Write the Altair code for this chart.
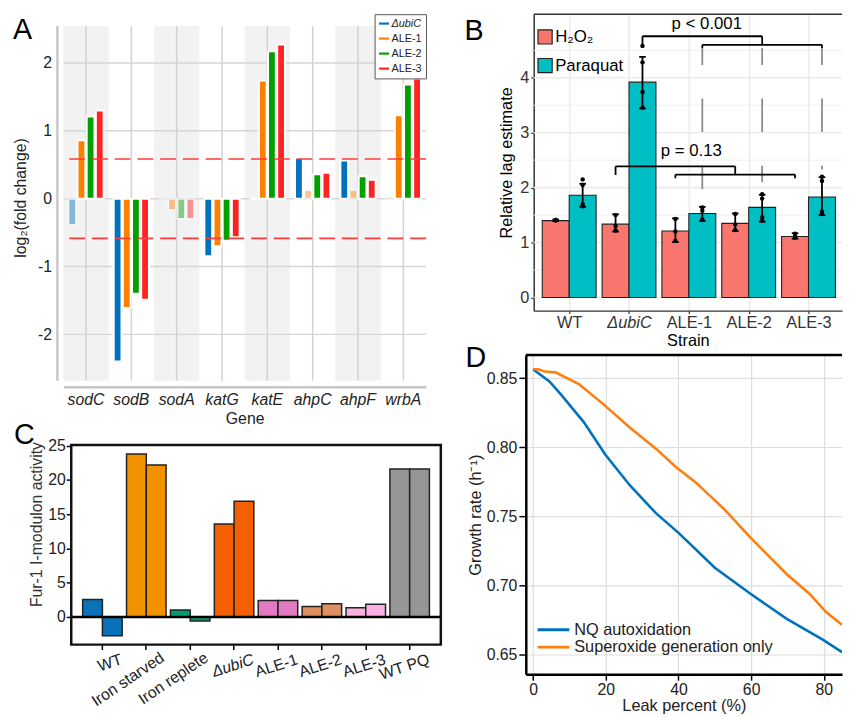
import json
import altair as alt
import pandas as pd

FONT = "Liberation Sans"
TXT = "#222222"

# ======================= Panel A data =======================
genes = ["sodC", "sodB", "sodA", "katG", "katE", "ahpC", "ahpF", "wrbA"]
series_a = ["ΔubiC", "ALE-1", "ALE-2", "ALE-3"]
colors_a = ["#0072BD", "#FF7F00", "#00A000", "#FF2222"]
lfc_ubic = [-0.39, -2.40, 0.00, -0.85, 0.00, 0.60, 0.56, 0.03]
lfc_ale1 = [0.86, -1.61, -0.17, -0.70, 1.74, 0.13, 0.13, 1.23]
lfc_ale2 = [1.21, -1.40, -0.30, -0.62, 2.17, 0.36, 0.33, 1.68]
lfc_ale3 = [1.30, -1.49, -0.30, -0.57, 2.27, 0.38, 0.28, 1.77]
sig_ubic = [False, True, False, True, True, True, True, False]
sig_ale1 = [True, True, False, True, True, False, False, True]
sig_ale2 = [True, True, False, True, True, True, True, True]
sig_ale3 = [True, True, False, True, True, True, True, True]
lfc_threshold = [0.585, -0.585]
a_ticks = [-2, -1, 0, 1, 2]

# ======================= Panel B data =======================
strains = ["WT", "ΔubiC", "ALE-1", "ALE-2", "ALE-3"]
treatments = ["H₂O₂", "Paraquat"]
colors_b = ["#F8766D", "#00BFC4"]
lag_h2o2 = [1.40, 1.335, 1.21, 1.35, 1.11]
lag_pq = [1.86, 3.92, 1.53, 1.64, 1.83]
lo_h2o2 = [1.39, 1.20, 1.01, 1.21, 1.07]
hi_h2o2 = [1.42, 1.515, 1.44, 1.53, 1.17]
lo_pq = [1.65, 3.44, 1.39, 1.38, 1.50]
hi_pq = [2.07, 4.38, 1.65, 1.87, 2.19]
reps_h2o2 = [[1.41, 1.40, 1.41], [1.50, 1.22, 1.30], [1.43, 1.03, 1.20],
             [1.52, 1.23, 1.33], [1.16, 1.09, 1.12]]
reps_pq = [[2.15, 2.05, 1.70, 1.66], [4.58, 4.28, 3.74, 3.46], [1.64, 1.58, 1.42],
           [1.88, 1.80, 1.46, 1.40], [2.20, 2.12, 1.56, 1.52]]
b_ticks = [0, 1, 2, 3, 4]
b_minor = [0.5, 1.5, 2.5, 3.5, 4.5]
# (from strain, from treatment, to strain, to treatment, level, left end, right end)
b_brackets = [
    ("ΔubiC", "Paraquat", "ALE-2", "Paraquat", 4.755, 4.60, 4.60),
    ("ALE-1", "Paraquat", "ALE-3", "Paraquat", 4.60, 4.54, 4.54),
    ("ΔubiC", "H₂O₂", "ALE-2", "H₂O₂", 2.387, 2.23, 2.237),
    ("ALE-1", "H₂O₂", "ALE-3", "H₂O₂", 2.237, 2.17, 2.17),
]
# dashed guides (strain, top, bottom) on Paraquat bars
b_dashed = [("ALE-1", 4.54, 1.97), ("ALE-2", 4.54, 2.10), ("ALE-3", 4.54, 2.33)]
p_labels = ["p < 0.001", "p = 0.13"]
p_x = [2.30, 2.04]
p_y = [4.89, 2.567]

# ======================= Panel C data =======================
conditions = ["WT", "Iron starved", "Iron replete", "ΔubiC", "ALE-1", "ALE-2", "ALE-3", "WT PQ"]
colors_c = ["#0A72B8", "#F39200", "#009E73", "#F46000", "#E27AC3", "#DE9060", "#F9B1E3", "#969696"]
fur_rep1 = [2.54, 23.8, 1.00, 13.56, 2.40, 1.53, 1.34, 21.6]
fur_rep2 = [-2.74, 22.2, -0.58, 16.9, 2.40, 1.92, 1.87, 21.6]
c_ticks = [0, 5, 10, 15, 20, 25]
long_labels = ["Iron starved", "Iron replete"]
italic_labels = ["ΔubiC"]

# ======================= Panel D data =======================
models = ["NQ autoxidation", "Superoxide generation only"]
colors_d = ["#0072BD", "#FF7F0E"]
leak_nq = [0, 4.5, 7.7, 14, 19.8, 26.6, 33.8, 40.1, 50, 59.9, 69.8, 79.7, 85]
rate_nq = [0.8564, 0.8476, 0.838, 0.818, 0.795, 0.7726, 0.7524, 0.738, 0.713,
           0.694, 0.676, 0.661, 0.652]
leak_so = [0, 1.35, 3.2, 6.3, 12.6, 19.4, 26.6, 33.8, 39.2, 44.6, 52.7, 59.9,
           69.8, 76.1, 80.6, 85]
rate_so = [0.8564, 0.8564, 0.8548, 0.854, 0.8457, 0.831, 0.8143, 0.799, 0.786,
           0.775, 0.755, 0.7345, 0.7083, 0.694, 0.681, 0.6718]
d_xticks = [0, 20, 40, 60, 80]
d_yticks = [0.65, 0.70, 0.75, 0.80, 0.85]

one_row = pd.DataFrame({"k": [0]})


def letter(ch, x, y):
    return alt.Chart(pd.DataFrame({"t": [ch]})).mark_text(
        fontSize=29, align="left", baseline="alphabetic", color="black"
    ).encode(text="t:N", x=alt.value(x), y=alt.value(y))


# ======================= Panel A =======================
A_W, A_H = 367, 371
A_DOM = [-2.684, 2.718]
A_TOP, A_BOT = 2.543, -2.684

df_a = pd.DataFrame({
    "gene": genes * len(series_a),
    "series": [s for s in series_a for _ in genes],
    "lfc": lfc_ubic + lfc_ale1 + lfc_ale2 + lfc_ale3,
    "sig": sig_ubic + sig_ale1 + sig_ale2 + sig_ale3,
})
df_genes = pd.DataFrame({"gene": genes, "shade": [i % 2 == 0 for i in range(len(genes))]})

a_xscale = alt.Scale(domain=genes, paddingInner=0, paddingOuter=0)
a_xaxis = alt.Axis(title="Gene", labelFontStyle="italic", labelFontSize=16, labelColor=TXT,
                   labelAngle=0, labelPadding=5, ticks=False, domainColor="#c8c8c8",
                   domainWidth=2.5, offset=6, grid=False, titleFontSize=16,
                   titleColor=TXT, titlePadding=3)
a_yscale = alt.Scale(domain=A_DOM, nice=False, zero=False)
a_yaxis = alt.Axis(values=a_ticks, labelExpr="datum.value", grid=False, domain=False,
                   ticks=False, labelPadding=12, labelFontSize=16, labelColor=TXT,
                   title="log₂(fold change)", titleFontSize=16, titleColor=TXT,
                   titlePadding=9)


def xa():
    return alt.X("gene:N", sort=genes, scale=a_xscale, axis=a_xaxis)


def ya(f):
    return alt.Y(f"{f}:Q", scale=a_yscale, axis=a_yaxis)


def ya_datum(v):
    return alt.YDatum(v, type="quantitative", scale=a_yscale, axis=a_yaxis)


bands_a = alt.Chart(df_genes).transform_filter("datum.shade").mark_rect(
    color="#f2f2f2").encode(x=xa(), y=ya_datum(A_TOP), y2=alt.Y2Datum(A_BOT))
vgrid_a = alt.Chart(df_genes).mark_rule(color="#d2d2d2", strokeWidth=1.5).encode(
    x=xa(), y=ya_datum(A_TOP), y2=alt.Y2Datum(A_BOT))
hgrid_a = alt.Chart(pd.DataFrame({"lfc": a_ticks})).mark_rule(
    color="#d6d6d6", strokeWidth=1.5).encode(y=ya("lfc"))
axline_a = alt.Chart(one_row).mark_rule(color="#c8c8c8", strokeWidth=2.5).encode(
    x=alt.value(-6), y=ya_datum(A_TOP), y2=alt.Y2Datum(A_BOT))
bars_a = alt.Chart(df_a).mark_bar(stroke="white", strokeWidth=2).encode(
    x=xa(),
    xOffset=alt.XOffset("series:N", sort=series_a,
                        scale=alt.Scale(domain=series_a, paddingInner=0.15, paddingOuter=0.55)),
    y=ya("lfc"),
    color=alt.Color("series:N", sort=series_a,
                    scale=alt.Scale(domain=series_a, range=colors_a),
                    legend=alt.Legend(title=None, orient="none", legendX=315, legendY=0,
                                      symbolType="M-1,-0.22H1V0.22H-1Z", symbolSize=100,
                                      symbolStrokeWidth=0, labelFontSize=11, labelColor=TXT,
                                      labelFontStyle=alt.ExprRef(expr="datum.label == 'ΔubiC' ? 'italic' : 'normal'"),
                                      padding=4, rowPadding=3.2, labelOffset=2,
                                      strokeColor="#555555", fillColor="white", labelLimit=200)),
    opacity=alt.condition("datum.sig", alt.value(1.0), alt.value(0.45)),
)
thr_a = alt.Chart(pd.DataFrame({"lfc": lfc_threshold})).mark_rule(
    color="#ff3b3b", strokeWidth=1.6, strokeDash=[16, 7]).encode(y=ya("lfc"))

chart_a = alt.layer(bands_a, vgrid_a, hgrid_a, axline_a, bars_a, thr_a,
                    letter("A", -51, 25)).properties(width=A_W, height=A_H)

# ======================= Panel B =======================
B_W, B_H = 320, 300
B_XDOM = [-0.593, 4.56]
B_YDOM = [-0.239, 5.157]
DODGE = 0.45
CAP = 0.055

rows, pts = [], []
for i, s in enumerate(strains):
    for j, (t, lag, lo, hi, reps) in enumerate([
        (treatments[0], lag_h2o2[i], lo_h2o2[i], hi_h2o2[i], reps_h2o2[i]),
        (treatments[1], lag_pq[i], lo_pq[i], hi_pq[i], reps_pq[i]),
    ]):
        x0 = i - DODGE + j * DODGE
        xc = x0 + DODGE / 2
        rows.append({"strain": s, "treat": t, "x0": x0, "x1": x0 + DODGE, "xc": xc,
                     "c0": xc - CAP, "c1": xc + CAP, "lag": lag, "lo": lo, "hi": hi})
        for r in reps:
            pts.append({"xc": xc, "lag": r})
df_b = pd.DataFrame(rows)
df_pts = pd.DataFrame(pts)


def bpos(strain, treat):
    return strains.index(strain) + (-DODGE / 2 if treat == treatments[0] else DODGE / 2)


seg = []
for fs, ft, ts, tt, lvl, le, re in b_brackets:
    xa0, xa1 = bpos(fs, ft), bpos(ts, tt)
    seg.append({"bx": xa0, "bx2": xa1, "by": lvl, "by2": lvl})
    seg.append({"bx": xa0, "bx2": xa0, "by": lvl, "by2": le})
    seg.append({"bx": xa1, "bx2": xa1, "by": lvl, "by2": re})
df_seg = pd.DataFrame(seg)
df_dash = pd.DataFrame([{"xc": bpos(s, treatments[1]), "top": t, "bot": b} for s, t, b in b_dashed])
df_p = pd.DataFrame({"label": p_labels, "px": p_x, "py": p_y})

b_xscale = alt.Scale(domain=B_XDOM, range=[8, B_W], nice=False, zero=False)
b_xaxis = alt.Axis(values=list(range(len(strains))),
                   labelExpr=json.dumps(strains, ensure_ascii=False) + "[datum.value]",
                   labelFontStyle={"condition": {"test": f"datum.value == {strains.index('ΔubiC')}",
                                                 "value": "italic"}, "value": "normal"},
                   grid=True, gridColor="#ebebeb", gridWidth=1.6, domainColor="#333333",
                   domainWidth=1.5, tickColor="#333333", tickSize=3, tickWidth=1.2,
                   labelPadding=1, labelFontSize=16.5, labelColor="#333333", title="Strain",
                   titleFontSize=16.5, titleColor="black", titlePadding=2)
b_yscale = alt.Scale(domain=B_YDOM, nice=False, zero=False)
b_yaxis = alt.Axis(values=b_ticks, grid=False, offset=-8, domainColor="#333333",
                   domainWidth=1.5, tickColor="#333333", tickSize=3, tickWidth=1.2,
                   labelPadding=2, labelFontSize=16.5, labelColor="#333333",
                   title="Relative lag estimate", titleFontSize=16.5, titleColor="black",
                   titlePadding=5)


def xb(f):
    return alt.X(f"{f}:Q", scale=b_xscale, axis=b_xaxis)


def yb(f):
    return alt.Y(f"{f}:Q", scale=b_yscale, axis=b_yaxis)


hmin_b = alt.Chart(pd.DataFrame({"lag": b_minor})).mark_rule(color="#eeeeee", strokeWidth=1).encode(
    y=yb("lag"), x=alt.value(8), x2=alt.value(B_W))
hmaj_b = alt.Chart(pd.DataFrame({"lag": b_ticks})).mark_rule(color="#ebebeb", strokeWidth=1.6).encode(
    y=yb("lag"), x=alt.value(8), x2=alt.value(B_W))
bars_b = alt.Chart(df_b).mark_rect(stroke="#222222", strokeWidth=1.1).encode(
    x=xb("x0"), x2="x1:Q", y=yb("lag"), y2=alt.Y2Datum(0),
    color=alt.Color("treat:N", sort=treatments,
                    scale=alt.Scale(domain=treatments, range=colors_b),
                    legend=alt.Legend(title=None, orient="none", legendX=11, legendY=14.5,
                                      symbolType="square", symbolSize=205,
                                      symbolStrokeColor="#222222", symbolStrokeWidth=1.2,
                                      symbolOpacity=1, labelFontSize=17, labelColor="black",
                                      labelOffset=1.7, rowPadding=8, padding=0,
                                      labelLimit=200)),
)
err_b = alt.Chart(df_b).mark_rule(color="black", strokeWidth=1.8).encode(
    x=xb("xc"), y=yb("lo"), y2="hi:Q")
caplo_b = alt.Chart(df_b).mark_rule(color="black", strokeWidth=1.8).encode(
    x=xb("c0"), x2="c1:Q", y=yb("lo"))
caphi_b = alt.Chart(df_b).mark_rule(color="black", strokeWidth=1.8).encode(
    x=xb("c0"), x2="c1:Q", y=yb("hi"))
pts_b = alt.Chart(df_pts).mark_circle(size=20, color="black", opacity=1).encode(
    x=xb("xc"), y=yb("lag"))
dash_b = alt.Chart(df_dash).mark_rule(color="#8c8c8c", strokeWidth=1.8,
                                      strokeDash=[34, 34], strokeDashOffset=17).encode(
    x=xb("xc"), y=yb("top"), y2="bot:Q")
brk_b = alt.Chart(df_seg).mark_rule(color="black", strokeWidth=1.8).encode(
    x=xb("bx"), x2="bx2:Q", y=yb("by"), y2="by2:Q")
ptxt_b = alt.Chart(df_p).mark_text(fontSize=17, align="center", baseline="alphabetic",
                                   color="black").encode(x=xb("px"), y=yb("py"), text="label:N")
top_b = alt.Chart(one_row).mark_rule(color="#333333", strokeWidth=1.5).encode(
    x=alt.value(8), x2=alt.value(B_W), y=alt.value(0))

chart_b = alt.layer(hmin_b, hmaj_b, bars_b, err_b, caplo_b, caphi_b, pts_b, dash_b, brk_b,
                    ptxt_b, top_b, letter("B", -62, 26)).properties(width=B_W, height=B_H)

# ======================= Panel C =======================
C_W, C_H = 382, 202
C_DOM = [-4.04, 25.1]
df_c = pd.DataFrame({
    "cond": conditions * 2,
    "rep": ["1"] * len(conditions) + ["2"] * len(conditions),
    "fur": fur_rep1 + fur_rep2,
})
df_clab = pd.DataFrame({"cond": conditions})
short_labels = [c for c in conditions if c not in long_labels + italic_labels]

c_xscale = alt.Scale(domain=conditions, range=[8, C_W], paddingInner=0.1, paddingOuter=0.26)
c_xaxis = alt.Axis(labels=False, ticks=True, tickSize=5, tickWidth=1.5, tickColor="black",
                   domain=False, title=None, grid=False)
c_yscale = alt.Scale(domain=C_DOM, nice=False, zero=False)
c_yaxis = alt.Axis(values=c_ticks, offset=-8, domain=False, tickSize=5, tickWidth=1.5,
                   tickColor="black", labelPadding=1, labelFontSize=16, labelColor=TXT,
                   grid=False, title="Fur-1 I-modulon activity", titleFontSize=16,
                   titleColor="#333333", titlePadding=3, titleY=80)


def xc():
    return alt.X("cond:N", sort=conditions, scale=c_xscale, axis=c_xaxis)


def yc(f):
    return alt.Y(f"{f}:Q", scale=c_yscale, axis=c_yaxis)


bars_c = alt.Chart(df_c).mark_bar(stroke="#222222", strokeWidth=1.5).encode(
    x=xc(),
    xOffset=alt.XOffset("rep:N", scale=alt.Scale(paddingInner=0, paddingOuter=0)),
    y=yc("fur"),
    color=alt.Color("cond:N", sort=conditions,
                    scale=alt.Scale(domain=conditions, range=colors_c), legend=None),
)
zero_c = alt.Chart(pd.DataFrame({"fur": [0]})).mark_rule(color="black", strokeWidth=2.5).encode(
    y=yc("fur"), x=alt.value(8), x2=alt.value(C_W))
frame_c = alt.Chart(one_row).mark_rect(fillOpacity=0, stroke="#111111", strokeWidth=2.5).encode(
    x=alt.value(8), x2=alt.value(C_W), y=alt.value(0), y2=alt.value(C_H))
lab_short = alt.Chart(df_clab).transform_filter(
    alt.FieldOneOfPredicate(field="cond", oneOf=short_labels)).mark_text(
    align="right", baseline="top", angle=342, dx=16.2, dy=5.3, fontSize=16, color=TXT).encode(
    x=xc(), y=alt.value(C_H + 7), text="cond:N")
lab_ital = alt.Chart(df_clab).transform_filter(
    alt.FieldOneOfPredicate(field="cond", oneOf=italic_labels)).mark_text(
    align="right", baseline="top", angle=342, dx=16.2, dy=5.3, fontSize=16, color=TXT,
    fontStyle="italic").encode(x=xc(), y=alt.value(C_H + 7), text="cond:N")
lab_long = alt.Chart(df_clab).transform_filter(
    alt.FieldOneOfPredicate(field="cond", oneOf=long_labels)).mark_text(
    align="right", baseline="top", angle=326, dx=9.95, dy=6.7, fontSize=16, color=TXT).encode(
    x=xc(), y=alt.value(C_H + 5), text="cond:N")

chart_c = alt.layer(bars_c, zero_c, frame_c, lab_short, lab_ital, lab_long,
                    letter("C", -50, -1)).properties(width=C_W, height=C_H)

# ======================= Panel D =======================
D_W, D_H = 320, 323
df_d = pd.concat([
    pd.DataFrame({"model": models[0], "leak": leak_nq, "rate": rate_nq}),
    pd.DataFrame({"model": models[1], "leak": leak_so, "rate": rate_so}),
])
d_xscale = alt.Scale(domain=[-2, 85], nice=False, zero=False)
d_xaxis = alt.Axis(values=d_xticks, grid=True, gridColor="#dddddd", gridWidth=1.2,
                   domainColor="black", domainWidth=2.5, tickColor="black", tickSize=6,
                   tickWidth=1.5, labelPadding=1, labelFontSize=16, labelColor=TXT,
                   title="Leak percent (%)", titleFontSize=16.5, titleColor=TXT, titlePadding=1)
d_yscale = alt.Scale(domain=[0.636, 0.8666], nice=False, zero=False)
d_yaxis = alt.Axis(values=d_yticks, format=".2f", grid=True, gridColor="#dddddd",
                   gridWidth=1.2, domainColor="black", domainWidth=2.5, tickColor="black",
                   tickSize=7, tickWidth=1.5, labelPadding=2, labelFontSize=16,
                   labelColor=TXT, title="Growth rate (h⁻¹)", titleFontSize=16.5,
                   titleColor=TXT, titlePadding=3)

lines_d = alt.Chart(df_d).mark_line(strokeWidth=2.6, clip=True).encode(
    x=alt.X("leak:Q", scale=d_xscale, axis=d_xaxis),
    y=alt.Y("rate:Q", scale=d_yscale, axis=d_yaxis),
    color=alt.Color("model:N", sort=models, scale=alt.Scale(domain=models, range=colors_d),
                    legend=alt.Legend(title=None, orient="none", legendX=19.75, legendY=269.75,
                                      symbolType="M-3,0H3", symbolSize=114, symbolStrokeWidth=3,
                                      labelFontSize=16.5, labelColor=TXT, labelOffset=12.75,
                                      rowPadding=0.5, padding=0, labelLimit=400)),
)
top_d = alt.Chart(one_row).mark_rule(color="black", strokeWidth=2.5).encode(
    x=alt.value(0), x2=alt.value(D_W), y=alt.value(0))

chart_d = alt.layer(lines_d, top_d, letter("D", -61, 11.7)).properties(width=D_W, height=D_H)

# ======================= Layout =======================
left = alt.vconcat(chart_a, chart_c, spacing=65, bounds="flush").resolve_scale(
    color="independent", xOffset="independent")
right = alt.vconcat(chart_b, chart_d, spacing=45, bounds="flush").resolve_scale(
    color="independent")
chart = alt.hconcat(left, right, spacing=22).resolve_scale(
    color="independent", xOffset="independent"
).properties(
    padding={"left": 4, "top": 1, "right": 0, "bottom": 0}
).configure(font=FONT).configure_view(stroke=None).configure_axis(
    titleFontWeight="normal", labelFont=FONT, titleFont=FONT
).configure_legend(labelFont=FONT)

chart.save("out.html", embed_options={"renderer": "svg", "actions": False})
